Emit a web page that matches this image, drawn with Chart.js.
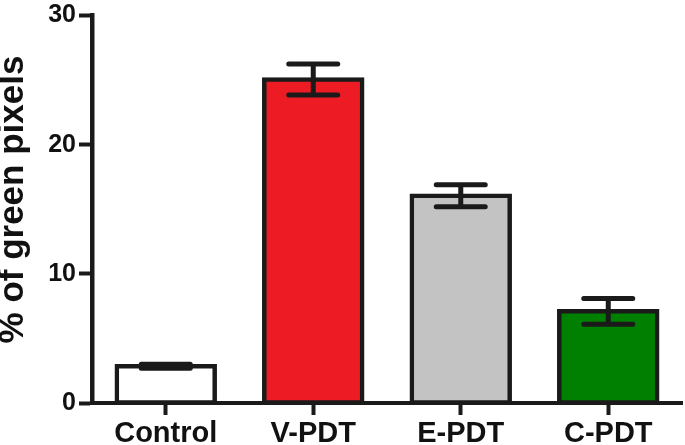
<!DOCTYPE html>
<html>
<head>
<meta charset="utf-8">
<script src="https://cdn.jsdelivr.net/npm/chart.js"></script>
<style>
  html, body { margin: 0; padding: 0; background: #fff; }
  #wrap { width: 685px; height: 445px; position: relative; }
</style>
</head>
<body>
<div id="wrap"><canvas id="barChart"></canvas></div>
<script>
  // Data
  const categories = ['Control', 'V-PDT', 'E-PDT', 'C-PDT'];
  const meanValues = [2.85, 25.05, 16.05, 7.1];
  const errValues = [0.15, 1.2, 0.85, 1.0];
  const barColors = ['#ffffff', '#ed1c24', '#c3c3c3', '#008000'];
  const yTicks = [0, 10, 20, 30];

  const ink = '#1a1a1a';
  const fontFamily = '"Liberation Sans", Arial, sans-serif';

  // Error bars (mean +/- err), drawn through the y scale
  const errorBars = {
    id: 'errorBars',
    afterDatasetsDraw(chart) {
      const ctx = chart.ctx;
      const yScale = chart.scales.y;
      const meta = chart.getDatasetMeta(0);
      ctx.save();
      ctx.strokeStyle = ink;
      ctx.lineWidth = 5;
      ctx.lineCap = 'round';
      meta.data.forEach(function(bar, i) {
        const x = bar.x;
        const hi = yScale.getPixelForValue(meanValues[i] + errValues[i]);
        const lo = yScale.getPixelForValue(meanValues[i] - errValues[i]);
        const half = 24.5;
        ctx.beginPath();
        ctx.moveTo(x, hi); ctx.lineTo(x, lo);
        ctx.moveTo(x - half, hi); ctx.lineTo(x + half, hi);
        ctx.moveTo(x - half, lo); ctx.lineTo(x + half, lo);
        ctx.stroke();
      });
      ctx.restore();
    }
  };

  const ctx = document.getElementById('barChart').getContext('2d');
  const chart = new Chart(ctx, {
    type: 'bar',
    data: {
      labels: categories,
      datasets: [{
        data: meanValues,
        backgroundColor: barColors,
        borderColor: ink,
        borderWidth: 4.5,
        borderSkipped: false,
        inflateAmount: 2.25,
        categoryPercentage: 1,
        barPercentage: 0.664
      }]
    },
    options: {
      responsive: true,
      maintainAspectRatio: false,
      animation: false,
      layout: { padding: { top: 12, right: 3, left: 0, bottom: 0 } },
      plugins: {
        legend: { display: false },
        tooltip: { enabled: false }
      },
      scales: {
        x: {
          z: 1,
          offset: true,
          grid: {
            offset: false,
            drawOnChartArea: false,
            drawTicks: true,
            tickLength: 12,
            tickWidth: 4,
            tickColor: ink
          },
          border: { display: true, color: ink, width: 4 },
          ticks: {
            color: '#111',
            padding: 2,
            font: { family: fontFamily, size: 29, weight: 'bold' }
          },
          afterFit(scale) { scale.height = 42; }
        },
        y: {
          z: 1,
          min: 0,
          max: 30,
          afterBuildTicks(scale) {
            scale.ticks = yTicks.map(v => ({ value: v }));
          },
          grid: {
            drawOnChartArea: false,
            drawTicks: true,
            tickLength: 13,
            tickWidth: 4,
            tickColor: ink
          },
          border: { display: true, color: ink, width: 4.5 },
          ticks: {
            color: '#111',
            padding: 3,
            font: { family: fontFamily, size: 25, weight: 'bold', lineHeight: 1 }
          },
          title: {
            display: true,
            text: '  % of green pixels',
            color: '#111',
            padding: { top: 0.5, bottom: 0 },
            font: { family: fontFamily, size: 35, weight: 'bold', lineHeight: 0.75 }
          },
          afterFit(scale) { scale.width = 92; }
        }
      }
    },
    plugins: [errorBars]
  });
</script>
</body>
</html>
